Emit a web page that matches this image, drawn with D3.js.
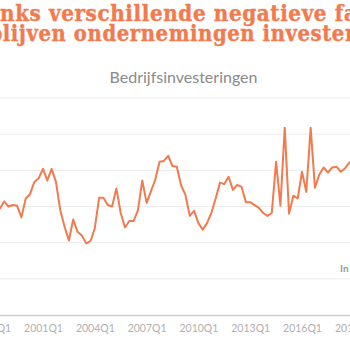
<!DOCTYPE html>
<html>
<head>
<meta charset="utf-8">
<script src="https://cdn.jsdelivr.net/npm/d3@7"></script>
<style>
  html, body { margin: 0; padding: 0; background: #fff; overflow: hidden; }
  #chart { width: 350px; height: 350px; }
</style>
</head>
<body>
<div id="chart"></div>
<script>
// quarterly business investment, 1998Q1 - 2019Q1
const startYear = 1998;
const investment = [
  -0.2, -0.5, -0.3, 0.7, 0.0, 0.2, 0.1, -1.5, 1.1, 1.7, 3.4, 3.9,
  5.2, 3.6, 5.2, 3.4, -0.5, -2.8, -4.7, -1.8, -3.5, -4.0, -5.1, -4.8,
  -3.0, 1.2, 1.2, 0.2, 0.0, 2.5, -0.9, -2.9, -2.0, -2.0, -0.5, 3.6,
  0.5, 2.1, 3.7, 6.2, 6.3, 7.0, 5.6, 5.5, 2.9, 1.6, -1.3, -0.6,
  -2.3, -3.2, -2.3, -0.9, 1.1, 3.3, 3.1, 4.1, 2.3, 3.0, 2.7, 0.6,
  0.6, 0.2, -0.2, -0.9, -1.3, -0.9, 6.2, 0.1, 10.9, -1.0, 1.5, 1.1,
  4.8, 2.0, 10.9, 2.6, 4.4, 5.4, 4.7, 5.4, 5.5, 4.8, 5.3, 6.1, 6.4
];
const quarters = investment.map(function(d, i) {
  return (startYear + Math.floor(i / 4)) + "Q" + (i % 4 + 1);
});
const xTicks = ["1998Q1","2001Q1","2004Q1","2007Q1","2010Q1","2013Q1","2016Q1","2019Q1"];
const yTicks = [-15, -10, -5, 0, 5, 10, 15];

// title lines are cropped on both sides in the reference:
// char `a` starts at x0 and char `b` starts at x1
const titleLines = [
  {text: "Ondanks verschillende negatieve factoren", a: 4, b: 32, x0: 0, x1: 336.7, y: 20.5},
  {text: "blijven ondernemingen investeren", a: 1, b: 28, x0: 2.7, x1: 333.5, y: 41}
];

const width = 350;
const height = 350;
const orange = "#f27a4e";

const svg = d3.select("#chart")
  .append("svg")
  .attr("width", width)
  .attr("height", height);

// scales
const xScale = d3.scaleLinear()
  .domain([0, quarters.length - 1])
  .range([-8.8, 353.8]);

const yScale = d3.scaleLinear()
  .domain([-15, 15])
  .range([315, 98]);

// title
const titleFont = "'DejaVu Serif Condensed', 'DejaVu Serif', serif";
titleLines.forEach(function(line) {
  const t = svg.append("text")
    .attr("x", 0)
    .attr("y", line.y)
    .attr("font-family", titleFont)
    .attr("font-weight", "bold")
    .attr("font-size", 20)
    .attr("letter-spacing", 0.6)
    .attr("fill", orange)
    .attr("stroke", orange)
    .attr("stroke-width", 0.4)
    .text(line.text);
  const n = t.node();
  const span = n.getStartPositionOfChar(line.b).x - n.getStartPositionOfChar(line.a).x;
  t.attr("font-size", 20 * (line.x1 - line.x0) / span);
  const start = n.getStartPositionOfChar(line.a).x;
  t.attr("x", line.x0 - start);
});

svg.append("text")
  .attr("x", 183.5)
  .attr("y", 82.5)
  .attr("text-anchor", "middle")
  .attr("font-family", "Lato, sans-serif")
  .attr("font-size", 16)
  .attr("fill", "#8a8a8a")
  .text("Bedrijfsinvesteringen");

// gridlines
svg.append("g")
  .selectAll("line")
  .data(yTicks.slice(1))
  .enter()
  .append("line")
    .attr("x1", 0)
    .attr("x2", width)
    .attr("y1", function(d) { return yScale(d); })
    .attr("y2", function(d) { return yScale(d); })
    .attr("stroke", "#ececec")
    .attr("stroke-width", 1);

// x axis
const xAxis = svg.append("g")
  .attr("transform", `translate(0,${yScale(-15)})`)
  .call(d3.axisBottom(xScale)
    .tickValues(xTicks.map(function(t) { return quarters.indexOf(t); }))
    .tickSize(0)
    .tickPadding(10)
    .tickFormat(function(i) { return quarters[i]; }));

xAxis.select(".domain")
  .attr("d", `M0,0.5H${width}`)
  .attr("stroke", "#cfcfcf")
  .attr("stroke-width", 1.5);

xAxis.selectAll("text")
  .attr("font-family", "Lato, sans-serif")
  .attr("font-size", 10.5)
  .attr("fill", "#b0b0b0");

svg.append("text")
  .attr("x", 340)
  .attr("y", 272)
  .attr("font-family", "Lato, sans-serif")
  .attr("font-weight", "bold")
  .attr("font-size", 10)
  .attr("fill", "#9a9a9a")
  .text("In %");

// line
const line = d3.line()
  .x(function(d, i) { return xScale(i); })
  .y(function(d) { return yScale(d); });

svg.append("path")
  .datum(investment)
  .attr("d", line)
  .attr("fill", "none")
  .attr("stroke", orange)
  .attr("stroke-width", 2)
  .attr("stroke-linejoin", "round");
</script>
</body>
</html>
